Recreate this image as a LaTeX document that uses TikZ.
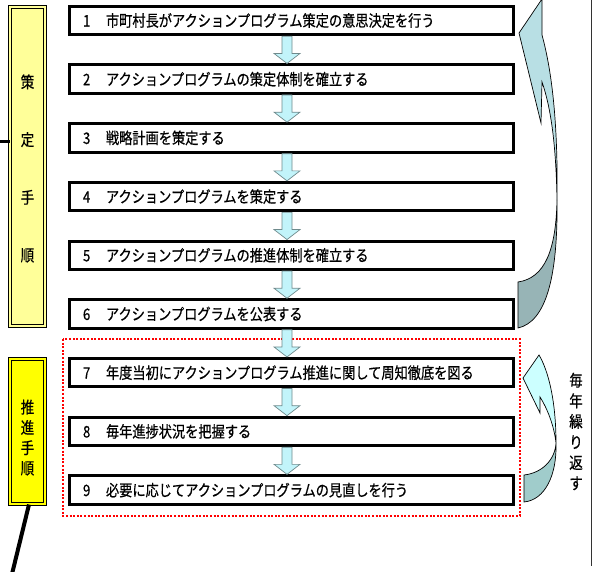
\documentclass[tikz,border=0pt]{standalone}
\usepackage{fontspec}
\setmainfont{Noto Sans CJK JP}[BoldFont={Noto Sans CJK JP}, BoldFeatures={FakeBold=0.6}]
\usetikzlibrary{calc}
\definecolor{paleyel}{HTML}{FFFF99}
\definecolor{brightyel}{HTML}{FFFF00}
\definecolor{arrowfill}{HTML}{C2F4FA}
\definecolor{arrowline}{HTML}{6F8A8C}
\definecolor{bigup}{HTML}{B8DFE4}
\definecolor{biglow}{HTML}{97B4B6}
\definecolor{smallup}{HTML}{CCFFFF}
\definecolor{smalllow}{HTML}{A0CCCB}
\newcommand\vstr[1]{\scalebox{1}[1.2]{#1}}
\begin{document}
\begin{tikzpicture}[x=1pt,y=-1pt,
  stepbox/.style={draw, line width=3pt, fill=white, minimum height=28.5pt,
    text width=417pt, inner xsep=13.5pt, inner ysep=0pt, align=left,
    font=\fontsize{13.2}{15}\selectfont\bfseries},
  sidebox/.style={draw, line width=1pt, double distance=2pt, minimum width=35pt, inner sep=0pt},
  sidetext/.style={align=center, inner sep=0pt},
  stepar/.style={fill=arrowfill, draw=arrowline, line width=0.7pt},
  curvar/.style={draw=black, line width=0.7pt},
  lead/.style={draw=black, line cap=butt}]
\useasboundingbox (0,0) rectangle (599,571);

% side boxes
\node[sidebox, fill=paleyel, double=paleyel, minimum height=319pt] (s1) at (27.5,166.5) {};
\node[sidebox, fill=brightyel, double=brightyel, minimum height=145pt] (s2) at (27.5,431.5) {};
\node[sidetext, font=\fontsize{13.5}{57.7}\selectfont\bfseries] (v1) at (27.5,168.5) {\vstr{策}\\\vstr{定}\\\vstr{手}\\\vstr{順}};
\node[sidetext, font=\fontsize{13.5}{20.3}\selectfont\bfseries] (v2) at (27.5,437.6) {\vstr{推}\\\vstr{進}\\\vstr{手}\\\vstr{順}};

% lead lines
\coordinate (L1) at (-1,141);
\coordinate (L2) at (12,574);
\draw[lead, line width=3pt] (L1) -- (s1.west |- L1);
\draw[lead, line width=4pt] ([xshift=1.5pt]s2.south) -- (L2);

% right frame line
\coordinate (R1) at (591,0);
\coordinate (R2) at (591,566);
\draw[line width=1pt, black!80] (R1) -- (R2);

% red dotted group
\draw[red, line width=2pt, dash pattern=on 2pt off 1.6pt] (63,339) rectangle (520,516);

% step boxes
\node[stepbox] (b1) at (291.5,20.5) {\vstr{\makebox[23pt][l]{1}市町村長がアクションプログラム策定の意思決定を行う}};
\node[stepbox] (b2) at (291.5,79.2) {\vstr{\makebox[23pt][l]{2}アクションプログラムの策定体制を確立する}};
\node[stepbox] (b3) at (291.5,137.9) {\vstr{\makebox[23pt][l]{3}戦略計画を策定する}};
\node[stepbox] (b4) at (291.5,196.6) {\vstr{\makebox[23pt][l]{4}アクションプログラムを策定する}};
\node[stepbox] (b5) at (291.5,255.3) {\vstr{\makebox[23pt][l]{5}アクションプログラムの推進体制を確立する}};
\node[stepbox] (b6) at (291.5,314) {\vstr{\makebox[23pt][l]{6}アクションプログラムを公表する}};
\node[stepbox] (b7) at (291.5,372.7) {\vstr{\makebox[23pt][l]{7}年度当初にアクションプログラム推進に関して周知徹底を図る}};
\node[stepbox] (b8) at (291.5,431.4) {\vstr{\makebox[23pt][l]{8}毎年進捗状況を把握する}};
\node[stepbox] (b9) at (291.5,490.1) {\vstr{\makebox[23pt][l]{9}必要に応じてアクションプログラムの見直しを行う}};

% step arrows
\coordinate (axis) at (287,0);
\foreach \i/\j in {1/2,2/3,3/4,4/5,5/6,6/7,7/8,8/9} {
  \path[stepar] let \p1=(b\i.south -| axis), \p2=(b\j.north -| axis) in
    (\x1-5pt,\y1) -- (\x1+5pt,\y1) -- (\x1+5pt,\y2+10pt) -- (\x1+13pt,\y2+10pt)
    -- (\x1,\y2) -- (\x1-13pt,\y2+10pt) -- (\x1-5pt,\y2+10pt) -- cycle;
}

% big curved return arrow
\path[curvar, fill=biglow] (557,200) .. controls (556,250) and (545,278) .. (518,282)
  -- (518,328) .. controls (545,322) and (558,280) .. (557,200) -- cycle;
\path[curvar, fill=bigup] (519,33) -- (541,123) -- (542,82)
  .. controls (550,105) and (556,140) .. (557,200)
  .. controls (558,130) and (553,75) .. (542,35) -- (542,-1) -- cycle;

% small curved repeat arrow
\path[curvar, fill=smalllow] (556,443) .. controls (555,460) and (542,473) .. (524,475)
  -- (524,502) .. controls (545,500) and (557,475) .. (556,443) -- cycle;
\path[curvar, fill=smallup] (523,378) -- (540,413) -- (540,397)
  .. controls (547,408) and (554,425) .. (556,443)
  .. controls (556,400) and (548,370) .. (539,355) -- cycle;

\node[sidetext, font=\fontsize{13.5}{20.6}\selectfont\bfseries] (rep) at (576,431.5)
  {\vstr{毎}\\\vstr{年}\\\vstr{繰}\\\vstr{り}\\\vstr{返}\\\vstr{す}};
\end{tikzpicture}
\end{document}
